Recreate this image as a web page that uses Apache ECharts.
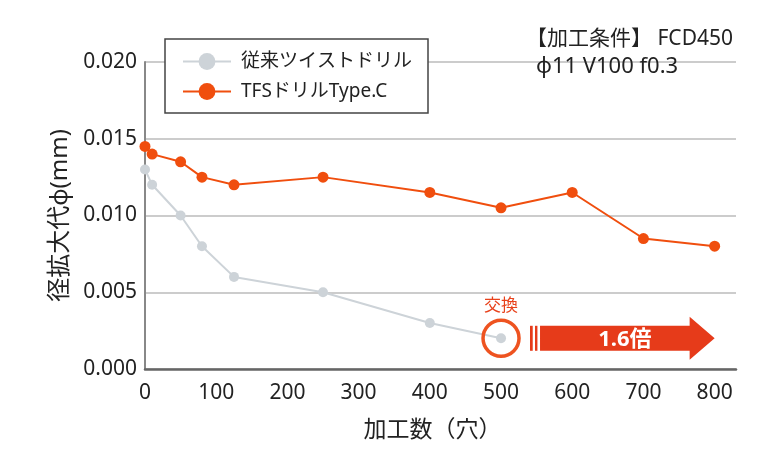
<!DOCTYPE html>
<html>
<head>
<meta charset="utf-8">
<script src="https://cdn.jsdelivr.net/npm/echarts@6/dist/echarts.min.js"></script>
<style>html,body{margin:0;padding:0;background:#fff}#c{width:768px;height:472px}</style>
</head>
<body>
<div id="c"></div>
<script>
const seriesNames = ['従来ツイストドリル', 'TFSドリルType.C'];
const conventionalX = [0, 10, 50, 80, 125, 250, 400, 500];
const conventionalY = [0.013, 0.012, 0.010, 0.008, 0.006, 0.005, 0.003, 0.002];
const tfsX = [0, 10, 50, 80, 125, 250, 400, 500, 600, 700, 800];
const tfsY = [0.0145, 0.014, 0.0135, 0.0125, 0.012, 0.0125, 0.0115, 0.0105, 0.0115, 0.0085, 0.008];
const xTicks = [0, 100, 200, 300, 400, 500, 600, 700, 800];
const yTicks = [0, 0.005, 0.010, 0.015, 0.020];
const conditionText = ['【加工条件】 FCD450', 'φ11 V100 f0.3'];
const xName = '加工数（穴）';
const yName = '径拡大代φ(mm)';
const exchangeLabel = '交換';
const ratioLabel = '1.6倍';
const exchangePoint = [500, 0.002];
const arrowEndX = 800;

const FONT = "'Noto Sans', 'Noto Sans CJK JP', sans-serif";
const GRAY = '#cdd3d8';
const ORANGE = '#f04e0e';
const RED = '#e63b1a';

const chart = echarts.init(document.getElementById('c'), null, {renderer: 'canvas'});
const option = {
  animation: false,
  backgroundColor: '#fff',
  textStyle: {fontFamily: FONT},
  title: [
    {
      text: conditionText[0], left: 526, top: 29, padding: 0,
      textStyle: {fontFamily: FONT, fontSize: 21, fontWeight: 'normal', color: '#222'}
    },
    {
      text: conditionText[1], left: 536, top: 56, padding: 0,
      textStyle: {fontFamily: FONT, fontSize: 22, fontWeight: 'normal', color: '#222'}
    }
  ],
  legend: {
    orient: 'vertical',
    left: 165, top: 39,
    padding: [13, 16, 12, 17],
    itemGap: 11,
    itemWidth: 48, itemHeight: 21,
    borderColor: '#444', borderWidth: 1.5,
    backgroundColor: '#fff',
    textStyle: {fontFamily: FONT, fontSize: 19, color: '#222', padding: [0, 0, 0, 5]},
    data: seriesNames
  },
  grid: {left: 145, right: 32, top: 62, bottom: 103, containLabel: false},
  xAxis: {
    type: 'value', min: 0, max: 830, interval: 100,
    name: xName, nameLocation: 'middle', nameGap: 50,
    nameTextStyle: {fontFamily: FONT, fontSize: 23, color: '#222', padding: [0, 16, 0, 0]},
    axisLine: {show: true, lineStyle: {color: '#666', width: 2.5}},
    axisTick: {show: false},
    splitLine: {show: false},
    axisLabel: {
      fontFamily: FONT, fontSize: 21, color: '#222', margin: 14,
      formatter: v => xTicks.includes(v) ? String(v) : ''
    }
  },
  yAxis: {
    type: 'value', min: 0, max: 0.02, interval: 0.005,
    name: yName, nameLocation: 'middle', nameGap: 73, nameRotate: 90,
    nameTextStyle: {fontFamily: FONT, fontSize: 24, color: '#222'},
    axisLine: {show: true, lineStyle: {color: '#888', width: 2}},
    axisTick: {show: false},
    splitLine: {show: true, lineStyle: {color: '#bbb', width: 1.5}},
    axisLabel: {
      fontFamily: FONT, fontSize: 21, color: '#222', margin: 8,
      formatter: v => yTicks.some(t => Math.abs(t - v) < 1e-9) ? v.toFixed(3) : ''
    }
  },
  series: [
    {
      name: seriesNames[0], type: 'line', clip: false,
      data: conventionalX.map((x, i) => [x, conventionalY[i]]),
      symbol: 'circle', symbolSize: 10,
      lineStyle: {color: GRAY, width: 2},
      itemStyle: {color: GRAY},
      z: 3
    },
    {
      name: seriesNames[1], type: 'line', clip: false,
      data: tfsX.map((x, i) => [x, tfsY[i]]),
      symbol: 'circle', symbolSize: 11,
      lineStyle: {color: ORANGE, width: 2},
      itemStyle: {color: ORANGE},
      z: 4
    }
  ]
};
chart.setOption(option);

const p = chart.convertToPixel({gridIndex: 0}, exchangePoint);
const tip = chart.convertToPixel({gridIndex: 0}, [arrowEndX, exchangePoint[1]]);
const cx = p[0], cy = p[1];
const startX = cx + 29;
const headLen = 25;
const bodyHalf = 12.5, headHalf = 21.5;
chart.setOption({
  graphic: [
    {type: 'circle', shape: {cx: cx, cy: cy, r: 18}, style: {fill: 'none', stroke: '#ee5320', lineWidth: 3.5}, z: 10},
    {type: 'text', x: cx, y: cy - 34, style: {text: exchangeLabel, fill: '#e8421c', font: "17px 'Noto Sans CJK JP'", align: 'center', verticalAlign: 'middle'}, z: 10},
    {type: 'rect', shape: {x: startX, y: cy - bodyHalf, width: 2.7, height: bodyHalf * 2}, style: {fill: RED}, z: 10},
    {type: 'rect', shape: {x: startX + 5, y: cy - bodyHalf, width: 2.4, height: bodyHalf * 2}, style: {fill: RED}, z: 10},
    {type: 'polygon', shape: {points: [
      [startX + 10, cy - bodyHalf], [tip[0] - headLen, cy - bodyHalf], [tip[0] - headLen, cy - headHalf],
      [tip[0], cy], [tip[0] - headLen, cy + headHalf], [tip[0] - headLen, cy + bodyHalf], [startX + 10, cy + bodyHalf]
    ]}, style: {fill: RED}, z: 10},
    {type: 'text', x: (startX + 10 + tip[0] - headLen) / 2 + 10, y: cy + 1, style: {text: ratioLabel, fill: '#fff', font: "bold 22px 'Noto Sans', 'Noto Sans CJK JP'", align: 'center', verticalAlign: 'middle'}, z: 11}
  ]
});
</script>
</body>
</html>
